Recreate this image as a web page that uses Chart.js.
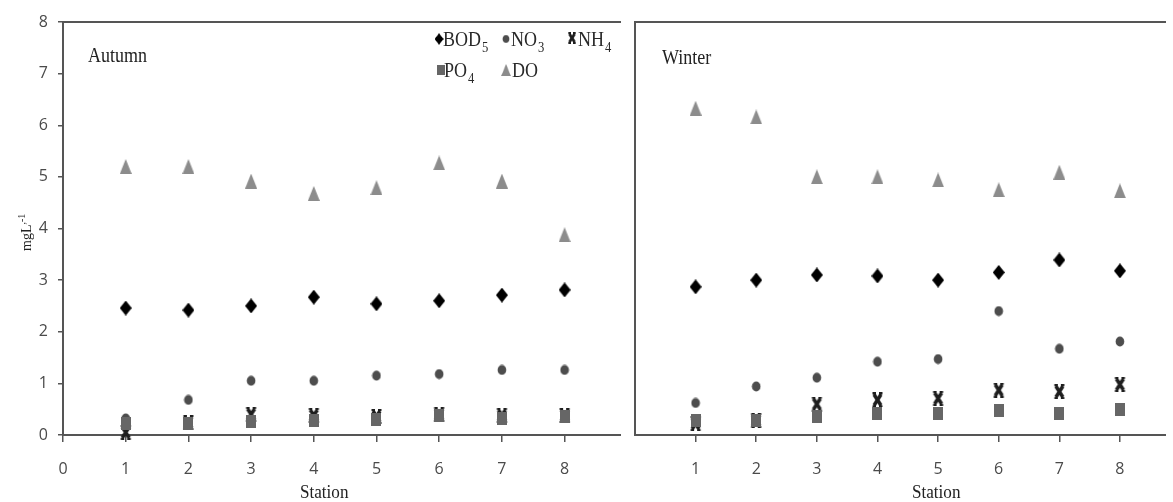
<!DOCTYPE html>
<html>
<head>
<meta charset="utf-8">
<script src="https://cdn.jsdelivr.net/npm/chart.js@4.4.1/dist/chart.umd.min.js"></script>
<style>
html, body { margin: 0; padding: 0; background: #fff; width: 1173px; height: 502px; overflow: hidden; }
#autumnChart { position: absolute; left: 0; top: 0; }
#winterChart { position: absolute; left: 628px; top: 0; }
</style>
</head>
<body>
<canvas id="autumnChart" width="628" height="502"></canvas>
<canvas id="winterChart" width="545" height="502"></canvas>
<script>
// Water quality by station, mg/L
const stations = [1, 2, 3, 4, 5, 6, 7, 8];
const xTicksAutumn = [0, 1, 2, 3, 4, 5, 6, 7, 8];
const xTicksWinter = [1, 2, 3, 4, 5, 6, 7, 8];
const yTicks = [0, 1, 2, 3, 4, 5, 6, 7, 8];

const bodAutumn = [2.46, 2.42, 2.50, 2.67, 2.54, 2.60, 2.71, 2.81];
const no3Autumn = [0.32, 0.68, 1.05, 1.05, 1.15, 1.18, 1.26, 1.26];
const nh4Autumn = [0.05, 0.24, 0.40, 0.38, 0.36, 0.40, 0.38, 0.38];
const po4Autumn = [0.23, 0.23, 0.27, 0.28, 0.30, 0.38, 0.32, 0.35];
const doAutumn  = [5.20, 5.20, 4.92, 4.68, 4.79, 5.27, 4.92, 3.88];

const bodWinter = [2.87, 3.00, 3.10, 3.08, 3.00, 3.15, 3.39, 3.18];
const no3Winter = [0.62, 0.94, 1.11, 1.42, 1.47, 2.40, 1.67, 1.81];
const nh4Winter = [0.22, 0.28, 0.60, 0.68, 0.71, 0.87, 0.84, 0.98];
const po4Winter = [0.28, 0.28, 0.35, 0.42, 0.42, 0.48, 0.42, 0.49];
const doWinter  = [6.33, 6.16, 5.00, 5.00, 4.94, 4.75, 5.09, 4.73];

const AXIS_COLOR = '#555';
const TICK_COLOR = '#4a4a4a';
const SERIF = '"Liberation Serif", "DejaVu Serif", serif';

// small canvases used as point styles (Excel-like markers)
function makeMarker(w, h, draw) {
    const c = document.createElement('canvas');
    c.width = w;
    c.height = h;
    draw(c.getContext('2d'), w, h);
    return c;
}

const diamond = makeMarker(12, 15, (g, w, h) => {
    g.fillStyle = '#000';
    g.beginPath();
    g.moveTo(w / 2, 0); g.lineTo(w, h / 2); g.lineTo(w / 2, h); g.lineTo(0, h / 2);
    g.closePath();
    g.fill();
});
const circle = makeMarker(10, 11, (g, w, h) => {
    g.fillStyle = '#4d4d4d';
    g.beginPath();
    g.ellipse(w / 2, h / 2, 4.3, 4.9, 0, 0, Math.PI * 2);
    g.fill();
});
const cross = makeMarker(13, 15, (g, w, h) => {
    g.strokeStyle = '#1e1e1e';
    g.lineWidth = 3.6;
    g.beginPath();
    g.moveTo(3, 2); g.lineTo(w - 3, h - 2);
    g.moveTo(w - 3, 2); g.lineTo(3, h - 2);
    g.stroke();
    g.lineWidth = 2;
    g.beginPath();
    g.moveTo(1.5, 1); g.lineTo(5, 1);
    g.moveTo(w - 5, 1); g.lineTo(w - 1.5, 1);
    g.moveTo(1.5, h - 1); g.lineTo(5, h - 1);
    g.moveTo(w - 5, h - 1); g.lineTo(w - 1.5, h - 1);
    g.stroke();
});
const square = makeMarker(10, 13, (g, w, h) => {
    g.fillStyle = '#666';
    g.fillRect(0, 0, w, h);
});
const triangle = makeMarker(12, 15, (g, w, h) => {
    g.fillStyle = '#8c8c8c';
    g.beginPath();
    g.moveTo(w / 2, 0); g.lineTo(w, h); g.lineTo(0, h);
    g.closePath();
    g.fill();
});

function points(values) {
    return stations.map((s, i) => ({ x: s, y: values[i] }));
}

function buildDatasets(bod, no3, nh4, po4, dox) {
    // lower order is drawn on top
    return [
        { label: 'BOD5', data: points(bod), pointStyle: diamond, order: 3 },
        { label: 'NO3', data: points(no3), pointStyle: circle, order: 2 },
        { label: 'NH4', data: points(nh4), pointStyle: cross, order: 1 },
        { label: 'PO4', data: points(po4), pointStyle: square, order: 0 },
        { label: 'DO', data: points(dox), pointStyle: triangle, order: 4 }
    ].map(ds => Object.assign(ds, { pointRadius: 6, clip: false, showLine: false }));
}

// squeezed serif text, the source image is a bit narrow
function serifText(ctx, txt, x, y, size, color) {
    ctx.save();
    ctx.translate(x, y);
    ctx.scale(0.9, 1);
    ctx.font = size + 'px ' + SERIF;
    ctx.fillStyle = color || '#222';
    ctx.textBaseline = 'alphabetic';
    ctx.textAlign = 'left';
    ctx.fillText(txt, 0, 0);
    const w = ctx.measureText(txt).width * 0.9;
    ctx.restore();
    return w;
}

function textWithSub(ctx, main, sub, x, y) {
    const w = serifText(ctx, main, x, y, 20, '#2a2a2a');
    if (sub) serifText(ctx, sub, x + w + 1, y + 6, 14, '#2a2a2a');
}

function putMarker(ctx, img, cx, cy, k) {
    const w = img.width * k, h = img.height * k;
    ctx.drawImage(img, cx - w / 2, cy - h / 2, w, h);
}

// frame lines: left, top and bottom of the plot area
const framePlugin = {
    id: 'frame',
    beforeDatasetsDraw(chart) {
        const a = chart.chartArea;
        const ctx = chart.ctx;
        ctx.save();
        ctx.strokeStyle = AXIS_COLOR;
        ctx.lineWidth = 2;
        ctx.beginPath();
        ctx.moveTo(a.right, a.top);
        ctx.lineTo(a.left, a.top);
        ctx.lineTo(a.left, a.bottom);
        ctx.lineTo(a.right, a.bottom);
        ctx.stroke();
        ctx.restore();
    }
};

const autumnText = {
    id: 'autumnText',
    afterDraw(chart) {
        const ctx = chart.ctx;
        serifText(ctx, 'Autumn', 88, 62, 20, '#222');
        serifText(ctx, 'Station', 300, 498, 19, '#222');

        // y title, rotated
        ctx.save();
        ctx.translate(31, 251);
        ctx.rotate(-Math.PI / 2);
        ctx.font = '14px ' + SERIF;
        ctx.fillStyle = '#222';
        ctx.fillText('mgL', 0, 0);
        const w = ctx.measureText('mgL').width;
        ctx.font = '10px ' + SERIF;
        ctx.fillText(',-1', w, -6);
        ctx.restore();

        // legend
        putMarker(ctx, diamond, 439, 39, 0.75);
        textWithSub(ctx, 'BOD', '5', 443, 46);
        putMarker(ctx, circle, 506, 39, 0.8);
        textWithSub(ctx, 'NO', '3', 511, 46);
        putMarker(ctx, cross, 572, 38, 0.75);
        textWithSub(ctx, 'NH', '4', 578, 46);
        putMarker(ctx, square, 441, 70, 0.8);
        textWithSub(ctx, 'PO', '4', 444, 77);
        putMarker(ctx, triangle, 506, 70, 0.8);
        textWithSub(ctx, 'DO', '', 512, 77);
    }
};

const winterText = {
    id: 'winterText',
    afterDraw(chart) {
        const ctx = chart.ctx;
        serifText(ctx, 'Winter', 34, 64, 20, '#222');
        serifText(ctx, 'Station', 284, 498, 19, '#222');
    }
};

function xScale(max, tickList) {
    return {
        type: 'linear',
        min: 0,
        max: max,
        afterBuildTicks: scale => { scale.ticks = tickList.map(v => ({ value: v })); },
        afterFit: scale => { scale.height = 67; },
        ticks: {
            autoSkip: false,
            maxRotation: 0,
            padding: 18,
            color: TICK_COLOR,
            font: { family: '"Open Sans"', size: 16 }
        },
        grid: { drawOnChartArea: false, drawTicks: true, tickLength: 7, color: AXIS_COLOR, lineWidth: 1.5 },
        border: { display: false }
    };
}

function baseOptions(padding, scales) {
    return {
        responsive: false,
        devicePixelRatio: 1,
        animation: false,
        layout: { padding: padding },
        plugins: { legend: { display: false }, tooltip: { enabled: false } },
        scales: scales
    };
}

new Chart(document.getElementById('autumnChart'), {
    type: 'scatter',
    data: { datasets: buildDatasets(bodAutumn, no3Autumn, nh4Autumn, po4Autumn, doAutumn) },
    options: baseOptions({ top: 22, right: 3, bottom: 0, left: 0 }, {
        x: xScale(8.9, xTicksAutumn),
        y: {
            type: 'linear',
            min: 0,
            max: 8,
            afterBuildTicks: scale => { scale.ticks = yTicks.map(v => ({ value: v })); },
            afterFit: scale => { scale.width = 63; },
            ticks: { padding: 10, color: TICK_COLOR, font: { family: '"Open Sans"', size: 16 } },
            grid: { drawOnChartArea: false, drawTicks: true, tickLength: 5, color: AXIS_COLOR, lineWidth: 1.5 },
            border: { display: false }
        }
    }),
    plugins: [framePlugin, autumnText]
});

new Chart(document.getElementById('winterChart'), {
    type: 'scatter',
    data: { datasets: buildDatasets(bodWinter, no3Winter, nh4Winter, po4Winter, doWinter) },
    options: baseOptions({ top: 22, right: 0, bottom: 0, left: 1 }, {
        x: xScale(8.76, xTicksWinter),
        y: { type: 'linear', min: 0, max: 8, display: false }
    }),
    plugins: [framePlugin, winterText]
});
</script>
</body>
</html>
